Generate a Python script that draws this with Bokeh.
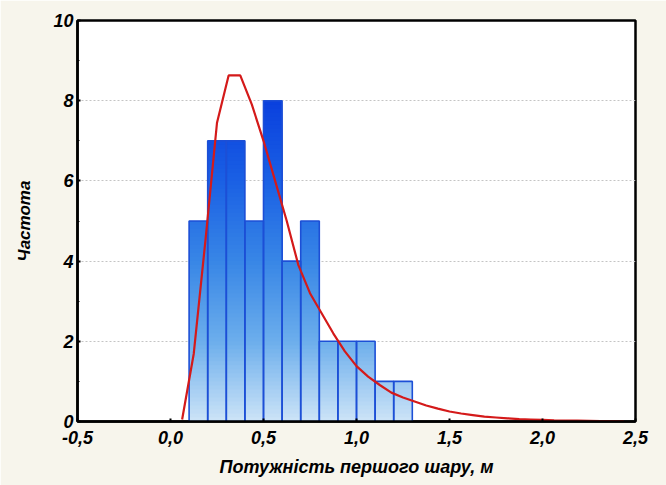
from bokeh.plotting import figure
from bokeh.models import FixedTicker
from bokeh.embed import file_html
from bokeh.resources import INLINE

# --- data ---
bin_left = [0.1, 0.2, 0.3, 0.4, 0.5, 0.6, 0.7, 0.8, 0.9, 1.0, 1.1, 1.2]
bin_right = [0.2, 0.3, 0.4, 0.5, 0.6, 0.7, 0.8, 0.9, 1.0, 1.1, 1.2, 1.3]
counts = [5, 7, 7, 5, 8, 4, 5, 2, 2, 2, 1, 1]

curve_x = [0.0625, 0.125, 0.1875, 0.25, 0.3125, 0.375, 0.4375, 0.5, 0.5625, 0.625,
           0.6875, 0.75, 0.8125, 0.875, 0.9375, 1.0, 1.0625, 1.125, 1.1875, 1.25,
           1.3125, 1.375, 1.4375, 1.5, 1.5625, 1.625, 1.6875, 1.75, 1.8125, 1.875,
           1.9375, 2.0, 2.0625, 2.125, 2.1875, 2.25, 2.3125, 2.375, 2.4375]
curve_y = [0.05, 1.69, 4.5, 7.45, 8.63, 8.63, 7.9, 7.0, 6.0, 5.0,
           3.9, 3.2, 2.7, 2.2, 1.75, 1.38, 1.12, 0.91, 0.72, 0.6,
           0.5, 0.4, 0.32, 0.25, 0.2, 0.16, 0.12, 0.1, 0.08, 0.06,
           0.05, 0.04, 0.03, 0.025, 0.02, 0.015, 0.01, 0.008, 0.005]

x_ticks = [-0.5, 0.0, 0.5, 1.0, 1.5, 2.0, 2.5]
x_tick_labels = ["-0,5", "0,0", "0,5", "1,0", "1,5", "2,0", "2,5"]
y_ticks = [0, 2, 4, 6, 8, 10]
y_tick_labels = ["0", "2", "4", "6", "8", "10"]

x_title = "Потужність першого шару, м"
y_title = "Частота"

# --- gradient colour stops (by absolute y) ---
stops_y = [0, 2, 4, 6, 8]
stops_c = [(205, 228, 247), (108, 174, 236), (56, 134, 230), (26, 96, 228), (10, 64, 222)]


def grad_color(y):
    for i in range(len(stops_y) - 1):
        if y <= stops_y[i + 1]:
            t = (y - stops_y[i]) / (stops_y[i + 1] - stops_y[i])
            c0, c1 = stops_c[i], stops_c[i + 1]
            return "#%02x%02x%02x" % tuple(int(round(a + (b - a) * t)) for a, b in zip(c0, c1))
    return "#%02x%02x%02x" % stops_c[-1]


p = figure(width=666, height=485, x_range=(-0.5, 2.5), y_range=(0, 10),
           output_backend="svg", toolbar_location=None,
           min_border_left=77, min_border_right=31, min_border_top=20, min_border_bottom=64)

p.background_fill_color = "white"
p.border_fill_color = "#f7f5ec"
p.outline_line_color = "black"
p.outline_line_width = 2.5

# gradient: nested quads from 0 up to successive levels, drawn tallest first
step = 0.1
sl, sr, st, sc = [], [], [], []
for l, r, h in zip(bin_left, bin_right, counts):
    n = int(round(h / step))
    for k in range(n - 1, -1, -1):
        y1 = (k + 1) * step
        sl.append(l); sr.append(r); st.append(y1)
        sc.append(grad_color(y1 - step / 2))
p.quad(left=sl, right=sr, bottom=0, top=st, fill_color=sc, line_color=None)

# bar outlines
p.quad(left=bin_left, right=bin_right, bottom=0, top=counts,
       fill_color=None, line_color="#1c4fd6", line_width=1.6)

# fitted curve
p.line(curve_x, curve_y, line_color="#d41a1a", line_width=2.2)

# grid
p.xgrid.visible = False
p.ygrid.ticker = FixedTicker(ticks=[2, 4, 6, 8])
p.ygrid.grid_line_color = "#c4c4c4"
p.ygrid.grid_line_dash = "2 2"
p.ygrid.grid_line_width = 1

font = "Liberation Sans"
for ax in (p.xaxis[0], p.yaxis[0]):
    ax.axis_line_color = "black"
    ax.axis_line_width = 2.5
    ax.major_tick_line_color = "black"
    ax.major_tick_line_width = 2
    ax.minor_tick_line_color = "black"
    ax.major_label_text_font = font
    ax.major_label_text_font_style = "bold italic"
    ax.major_label_text_font_size = "18px"
    ax.major_label_text_color = "black"
    ax.axis_label_text_font = font
    ax.axis_label_text_font_style = "bold italic"
    ax.axis_label_text_font_size = "17px"
    ax.axis_label_text_color = "black"

p.xaxis.ticker = FixedTicker(ticks=x_ticks)
p.xaxis.major_label_overrides = {t: s for t, s in zip(x_ticks, x_tick_labels)}
p.xaxis.major_tick_in = 3
p.xaxis.major_tick_out = 0
p.xaxis.minor_tick_line_color = None
p.xaxis.major_label_standoff = 9
p.xaxis.axis_label = x_title
p.xaxis.axis_label_standoff = 10
p.xaxis.axis_label_text_font_size = "18px"

p.yaxis.ticker = FixedTicker(ticks=y_ticks, minor_ticks=[1, 3, 5, 7, 9])
p.yaxis.major_label_overrides = {t: s for t, s in zip(y_ticks, y_tick_labels)}
p.yaxis.major_tick_in = 3
p.yaxis.major_tick_out = 0
p.yaxis.minor_tick_in = 2
p.yaxis.minor_tick_out = 0
p.yaxis.major_label_standoff = 4
p.yaxis.axis_label = y_title
p.yaxis.axis_label_standoff = 16

open("out.html", "w").write(file_html(p, INLINE))
